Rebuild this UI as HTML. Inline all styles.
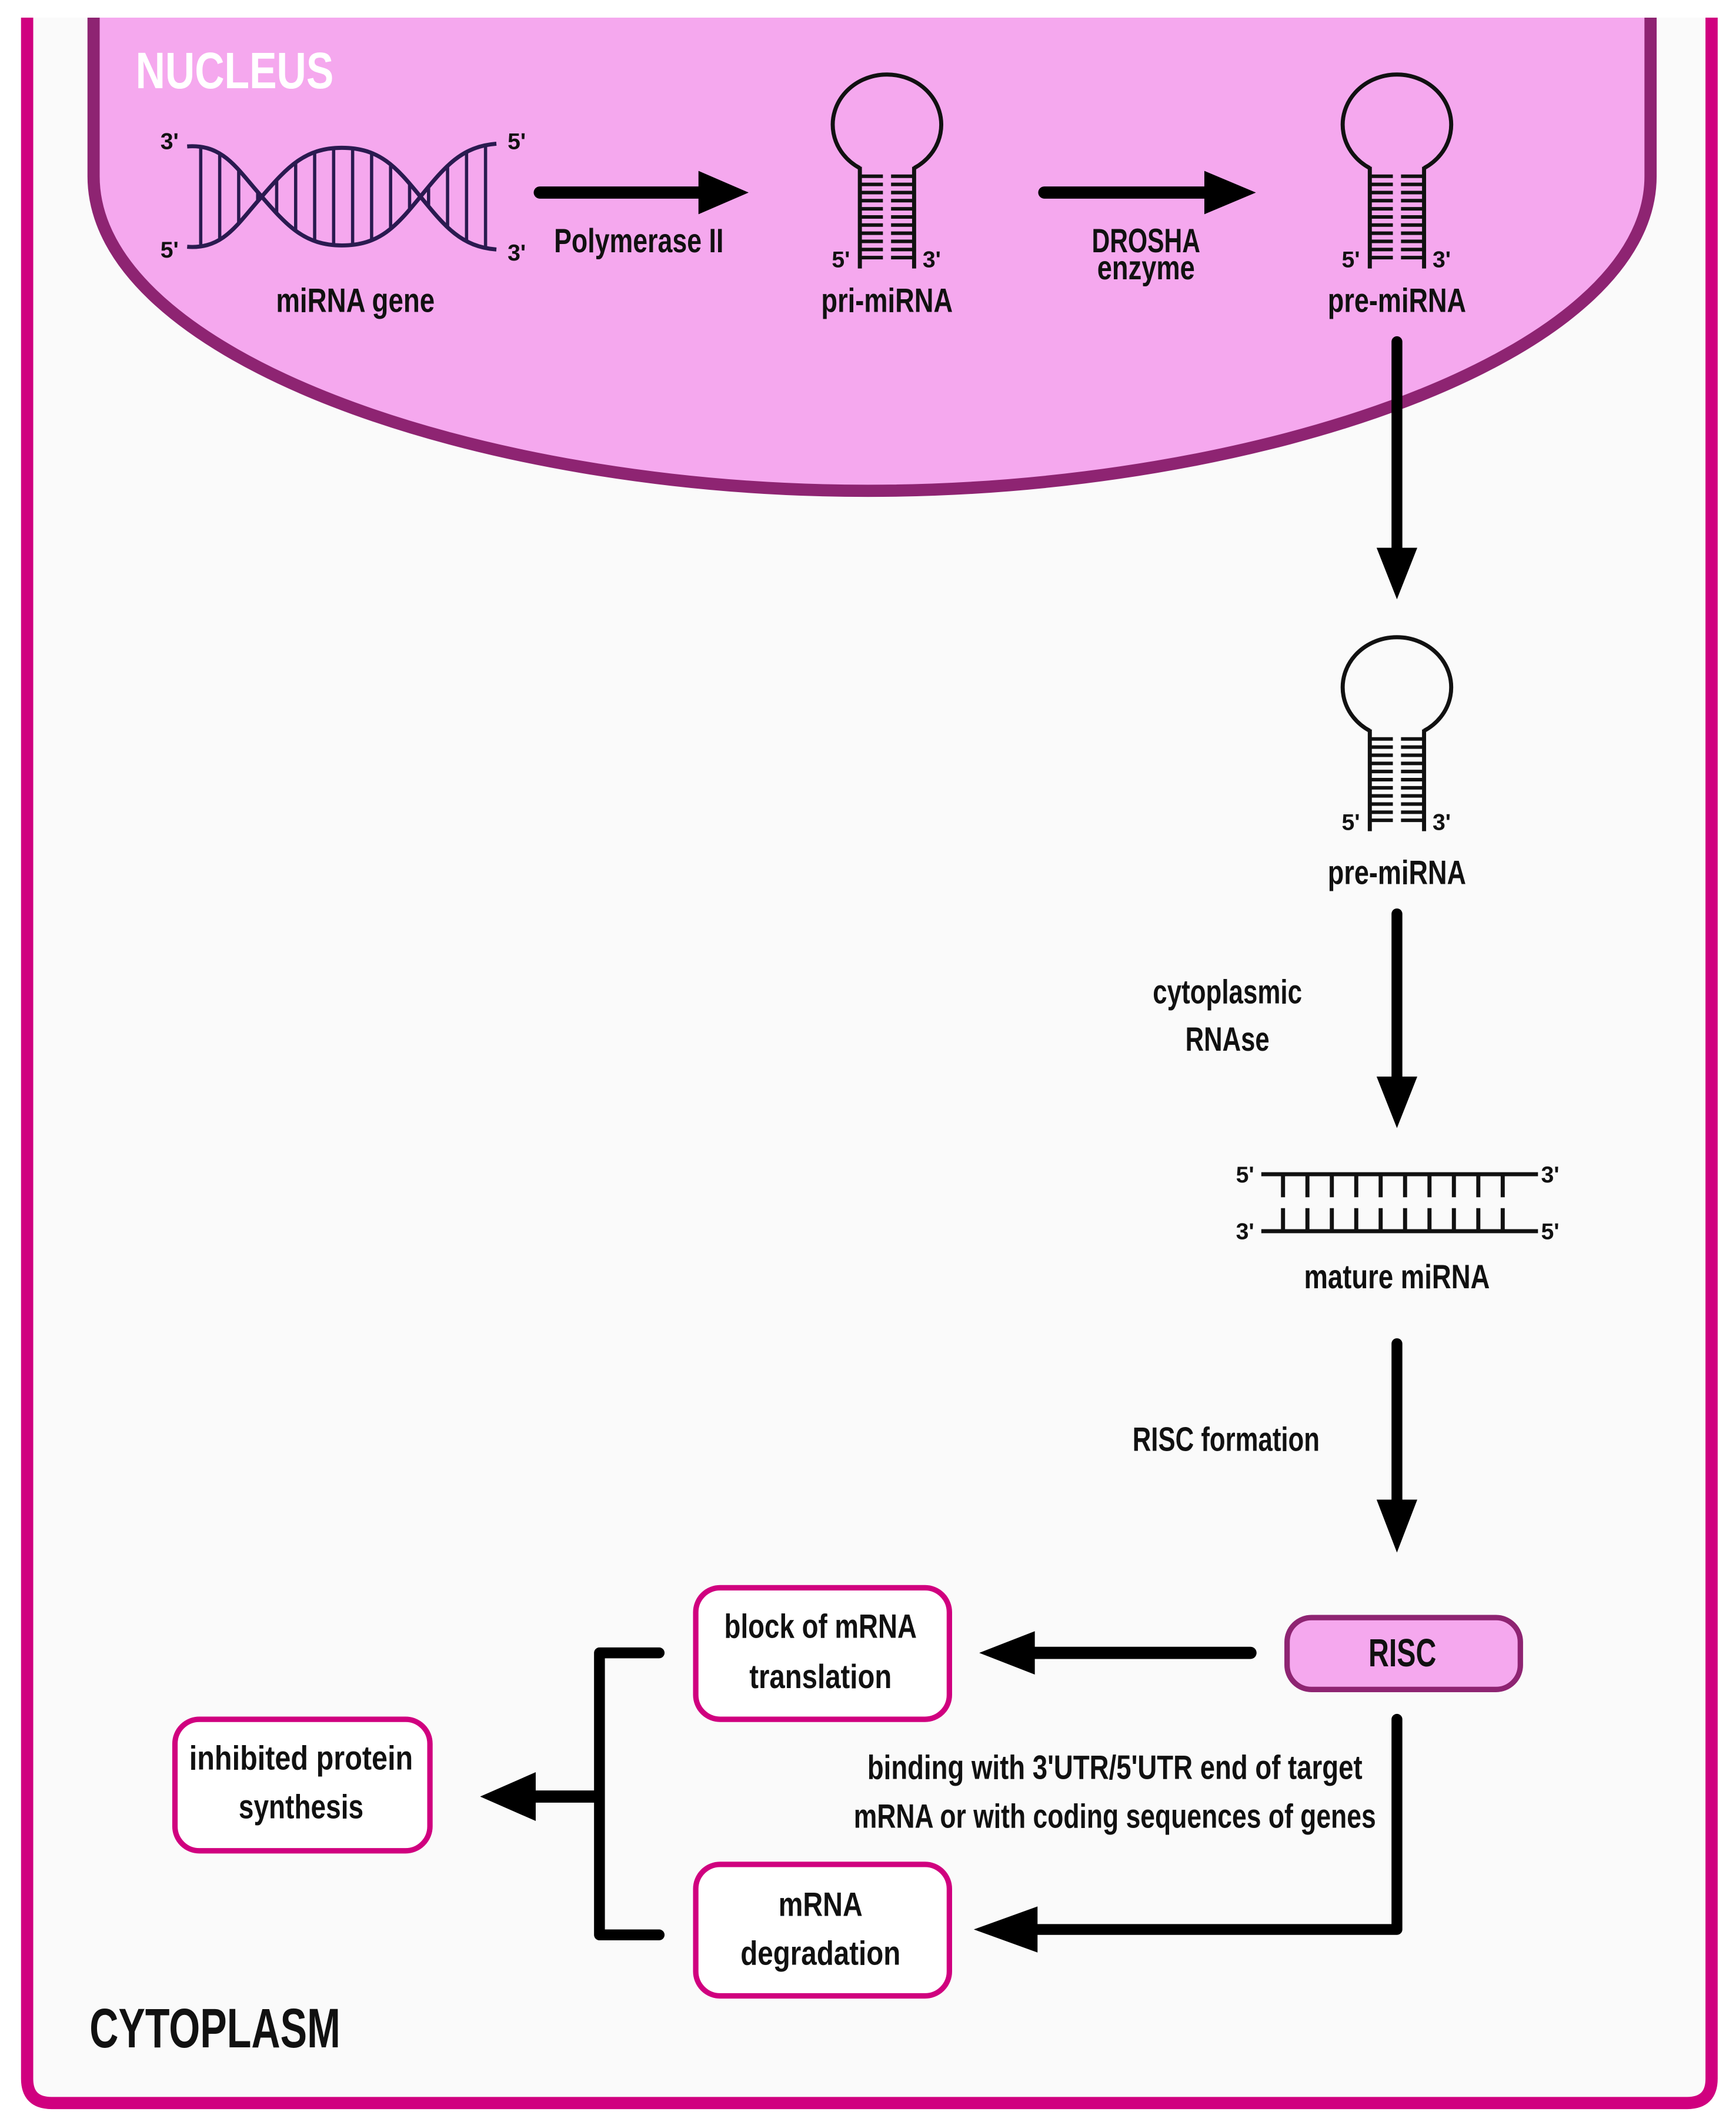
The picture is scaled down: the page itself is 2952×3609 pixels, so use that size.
<!DOCTYPE html>
<html><head><meta charset="utf-8"><style>
html,body{margin:0;padding:0;background:#fff;}
svg{display:block;}
text{font-family:"Liberation Sans Narrow","Liberation Sans",sans-serif;font-weight:bold;fill:#111;}
</style></head><body>
<svg width="2952" height="3609" viewBox="0 0 1280 1565" preserveAspectRatio="none" xmlns="http://www.w3.org/2000/svg">
<defs>
<marker id="ah" viewBox="0 0 10 10" refX="0" refY="5" markerWidth="1" markerHeight="1" orient="auto"/>
<clipPath id="dnaclip"><path d="M138,108 C165,106 175,125 193,145 C212,167 225,181 252,181 C280,181 292,167 310,145 C328,123 340,108 366,106 L366,184 C340,182 328,167 310,145 C292,123 280,109 252,109 C225,109 212,123 193,145 C175,165 165,184 138,182 Z" fill-rule="nonzero"/></clipPath>
<g id="hp">
<path d="M-20,36 A40,37 0 1 1 20,36" fill="none" stroke="#111" stroke-width="3"/>
<line x1="-20" y1="35" x2="-20" y2="110" stroke="#111" stroke-width="3"/>
<line x1="20" y1="35" x2="20" y2="110" stroke="#111" stroke-width="3"/>
<path d="M-20,42h17M-20,48h17M-20,54h17M-20,60h17M-20,66h17M-20,72h17M-20,78h17M-20,84h17M-20,90h17M-20,96h17M-20,102h17M3,42h17M3,48h17M3,54h17M3,60h17M3,66h17M3,72h17M3,78h17M3,84h17M3,90h17M3,96h17M3,102h17" stroke="#111" stroke-width="2.6"/>
<text x="-34" y="109" font-size="17" font-weight="normal" text-anchor="middle">5'</text>
<text x="33" y="109" font-size="17" font-weight="normal" text-anchor="middle">3'</text>
</g>
</defs>
<rect x="0" y="0" width="1280" height="1565" fill="#fff"/>
<!-- cytoplasm -->
<path d="M20,13 V1533 Q20,1551 38,1551 H1244 Q1262,1551 1262,1533 V13 Z" fill="#fafafa"/>
<path d="M20,13 V1533 Q20,1551 38,1551 H1244 Q1262,1551 1262,1533 V13" fill="none" stroke="#d0007f" stroke-width="9"/>
<!-- nucleus -->
<path d="M69,13 V130 C69,262 350,362 640,362 C930,362 1217,262 1217,130 V13 Z" fill="#f5a8ee"/>
<path d="M69,13 V130 C69,262 350,362 640,362 C930,362 1217,262 1217,130 V13" fill="none" stroke="#8e2472" stroke-width="9"/>
<text x="100" y="65" font-size="38" fill="#fff" style="fill:#fff" textLength="146" lengthAdjust="spacingAndGlyphs">NUCLEUS</text>
<!-- DNA -->
<g clip-path="url(#dnaclip)" stroke="#2a1a50" stroke-width="2.4">
<path d="M148,95V195M162,95V195M176,95V195M190,95V195M204,95V195M218,95V195M232,95V195M246,95V195M260,95V195M274,95V195M288,95V195M302,95V195M316,95V195M330,95V195M344,95V195M358,95V195"/>
</g>
<g fill="none" stroke="#2a1a50" stroke-width="3">
<path d="M138,108 C165,106 175,125 193,145 C212,167 225,181 252,181 C280,181 292,167 310,145 C328,123 340,108 366,106"/>
<path d="M138,182 C165,184 175,165 193,145 C212,123 225,109 252,109 C280,109 292,123 310,145 C328,167 340,182 366,184"/>
</g>
<text x="125" y="110" font-size="17" font-weight="normal" text-anchor="middle">3'</text>
<text x="125" y="190" font-size="17" font-weight="normal" text-anchor="middle">5'</text>
<text x="381" y="110" font-size="17" font-weight="normal" text-anchor="middle">5'</text>
<text x="381" y="192" font-size="17" font-weight="normal" text-anchor="middle">3'</text>
<text x="262" y="230" font-size="25" text-anchor="middle" textLength="117" lengthAdjust="spacingAndGlyphs">miRNA gene</text>
<!-- arrow 1 -->
<line x1="398" y1="142" x2="518" y2="142" stroke="#000" stroke-width="9" stroke-linecap="round"/>
<polygon points="515,126 552,142 515,158" fill="#000"/>
<text x="471" y="186" font-size="25" text-anchor="middle" textLength="125" lengthAdjust="spacingAndGlyphs">Polymerase II</text>
<use href="#hp" x="654" y="88"/>
<text x="654" y="230" font-size="25" text-anchor="middle" textLength="97" lengthAdjust="spacingAndGlyphs">pri-miRNA</text>
<!-- arrow 2 -->
<line x1="770" y1="142" x2="890" y2="142" stroke="#000" stroke-width="9" stroke-linecap="round"/>
<polygon points="888,126 926,142 888,158" fill="#000"/>
<text x="845" y="186" font-size="25" text-anchor="middle" textLength="80" lengthAdjust="spacingAndGlyphs">DROSHA</text>
<text x="845" y="206" font-size="25" text-anchor="middle" textLength="72" lengthAdjust="spacingAndGlyphs">enzyme</text>
<use href="#hp" x="1030" y="88"/>
<text x="1030" y="230" font-size="25" text-anchor="middle" textLength="102" lengthAdjust="spacingAndGlyphs">pre-miRNA</text>
<!-- vertical arrow 1 -->
<line x1="1030" y1="252" x2="1030" y2="408" stroke="#000" stroke-width="8" stroke-linecap="round"/>
<polygon points="1015,404 1045,404 1030,442" fill="#000"/>
<use href="#hp" x="1030" y="503"/>
<text x="1030" y="652" font-size="25" text-anchor="middle" textLength="102" lengthAdjust="spacingAndGlyphs">pre-miRNA</text>
<!-- vertical arrow 2 -->
<line x1="1030" y1="674" x2="1030" y2="798" stroke="#000" stroke-width="8" stroke-linecap="round"/>
<polygon points="1015,794 1045,794 1030,832" fill="#000"/>
<text x="905" y="740" font-size="25" text-anchor="middle" textLength="110" lengthAdjust="spacingAndGlyphs">cytoplasmic</text>
<text x="905" y="775" font-size="25" text-anchor="middle" textLength="62" lengthAdjust="spacingAndGlyphs">RNAse</text>
<!-- mature miRNA -->
<g stroke="#111" stroke-width="3">
<line x1="930" y1="866" x2="1134" y2="866"/>
<line x1="930" y1="908" x2="1134" y2="908"/>
<path d="M946,866V883M964,866V883M982,866V883M1000,866V883M1018,866V883M1036,866V883M1054,866V883M1072,866V883M1090,866V883M1108,866V883M946,908V891M964,908V891M982,908V891M1000,908V891M1018,908V891M1036,908V891M1054,908V891M1072,908V891M1090,908V891M1108,908V891"/>
</g>
<text x="918" y="872" font-size="17" font-weight="normal" text-anchor="middle">5'</text>
<text x="1143" y="872" font-size="17" font-weight="normal" text-anchor="middle">3'</text>
<text x="918" y="914" font-size="17" font-weight="normal" text-anchor="middle">3'</text>
<text x="1143" y="914" font-size="17" font-weight="normal" text-anchor="middle">5'</text>
<text x="1030" y="950" font-size="25" text-anchor="middle" textLength="137" lengthAdjust="spacingAndGlyphs">mature miRNA</text>
<!-- vertical arrow 3 -->
<line x1="1030" y1="991" x2="1030" y2="1110" stroke="#000" stroke-width="8" stroke-linecap="round"/>
<polygon points="1015,1106 1045,1106 1030,1145" fill="#000"/>
<text x="904" y="1070" font-size="25" text-anchor="middle" textLength="138" lengthAdjust="spacingAndGlyphs">RISC formation</text>
<!-- RISC -->
<rect x="949" y="1193" width="172" height="53" rx="18" fill="#f5a8ee" stroke="#8e2472" stroke-width="4"/>
<text x="1034" y="1229" font-size="29" font-weight="normal" text-anchor="middle" textLength="50" lengthAdjust="spacingAndGlyphs">RISC</text>
<!-- arrow RISC -> block -->
<line x1="922" y1="1219" x2="760" y2="1219" stroke="#000" stroke-width="9" stroke-linecap="round"/>
<polygon points="763,1203 722,1219 763,1235" fill="#000"/>
<!-- block box -->
<rect x="513" y="1171" width="187" height="97" rx="18" fill="#fff" stroke="#d0007f" stroke-width="4"/>
<text x="605" y="1208" font-size="25" text-anchor="middle" textLength="142" lengthAdjust="spacingAndGlyphs">block of mRNA</text>
<text x="605" y="1245" font-size="25" text-anchor="middle" textLength="105" lengthAdjust="spacingAndGlyphs">translation</text>
<!-- RISC -> degradation -->
<path d="M1030,1268 V1423 H762" fill="none" stroke="#000" stroke-width="8" stroke-linecap="round" stroke-linejoin="round"/>
<polygon points="765,1406 718,1423 765,1440" fill="#000"/>
<text x="822" y="1312" font-size="25" text-anchor="middle" textLength="365" lengthAdjust="spacingAndGlyphs">binding with 3'UTR/5'UTR end of target</text>
<text x="822" y="1348" font-size="25" text-anchor="middle" textLength="385" lengthAdjust="spacingAndGlyphs">mRNA or with coding sequences of genes</text>
<!-- degradation box -->
<rect x="513" y="1375" width="187" height="97" rx="18" fill="#fff" stroke="#d0007f" stroke-width="4"/>
<text x="605" y="1413" font-size="25" text-anchor="middle" textLength="62" lengthAdjust="spacingAndGlyphs">mRNA</text>
<text x="605" y="1449" font-size="25" text-anchor="middle" textLength="118" lengthAdjust="spacingAndGlyphs">degradation</text>
<!-- bracket -->
<path d="M486,1219 H442 V1427 H486" fill="none" stroke="#000" stroke-width="8" stroke-linejoin="round" stroke-linecap="round"/>
<line x1="442" y1="1325" x2="392" y2="1325" stroke="#000" stroke-width="9"/>
<polygon points="395,1307 354,1325 395,1343" fill="#000"/>
<!-- inhibited box -->
<rect x="129" y="1268" width="188" height="97" rx="18" fill="#fff" stroke="#d0007f" stroke-width="4"/>
<text x="222" y="1305" font-size="25" text-anchor="middle" textLength="165" lengthAdjust="spacingAndGlyphs">inhibited protein</text>
<text x="222" y="1341" font-size="25" text-anchor="middle" textLength="92" lengthAdjust="spacingAndGlyphs">synthesis</text>
<text x="66" y="1510" font-size="41" font-weight="normal" textLength="185" lengthAdjust="spacingAndGlyphs">CYTOPLASM</text>
</svg>
</body></html>
